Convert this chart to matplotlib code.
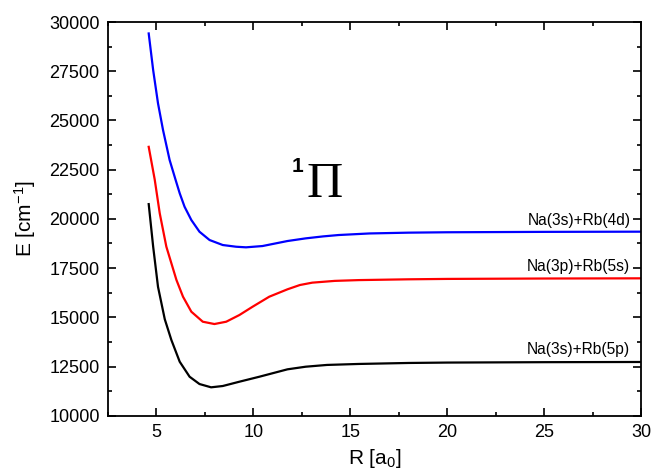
import matplotlib
matplotlib.use("Agg")
import matplotlib.pyplot as plt
from matplotlib.ticker import MultipleLocator

plt.rcParams['font.family'] = ['Liberation Sans', 'DejaVu Sans']
plt.rcParams['mathtext.fontset'] = 'custom'
plt.rcParams['mathtext.rm'] = 'Liberation Sans'
plt.rcParams['mathtext.it'] = 'Liberation Sans'

# Na(3s)+Rb(4d) -- синяя
r_4d = [4.60, 4.83, 5.08, 5.34, 5.68, 5.99, 6.20, 6.45, 6.80, 7.22, 7.74, 8.42, 9.11, 9.62,
        10.47, 11.76, 12.7, 13.6, 14.4, 16.0, 18.0, 20.0, 25.0, 30.0]
e_4d = [29420, 27560, 25870, 24510, 22990, 21974, 21300, 20617, 19942, 19347, 18926, 18672, 18585, 18555,
        18620, 18875, 19010, 19110, 19180, 19260, 19300, 19320, 19340, 19350]

# Na(3p)+Rb(5s) -- красная
r_5s = [4.60, 4.91, 5.17, 5.51, 6.03, 6.37, 6.80, 7.39, 7.99, 8.60, 9.28, 9.96, 10.82, 11.76,
        12.4, 13.04, 14.2, 15.44, 18.0, 20.0, 25.0, 30.0]
e_5s = [23660, 22000, 20280, 18590, 16900, 16046, 15284, 14776, 14658, 14776, 15116, 15537, 16046, 16422,
        16640, 16760, 16850, 16890, 16930, 16950, 16970, 16980]

# Na(3s)+Rb(5p) -- черная
r_5p = [4.60, 4.83, 5.08, 5.43, 5.77, 6.20, 6.71, 7.22, 7.82, 8.42, 9.28, 10.31, 11.76,
        12.7, 13.8, 15.44, 18.0, 20.0, 25.0, 30.0]
e_5p = [20750, 18590, 16550, 14900, 13846, 12743, 11981, 11610, 11443, 11509, 11728, 11981, 12357,
        12490, 12580, 12630, 12680, 12700, 12720, 12730]

labels = ["Na(3s)+Rb(4d)", "Na(3p)+Rb(5s)", "Na(3s)+Rb(5p)"]
label_y = [19940, 17570, 13340]

fig = plt.figure(figsize=(6.51, 4.73), dpi=100)
ax = fig.add_axes([0.1659, 0.1211, 0.8187, 0.8323])

ax.plot(r_4d, e_4d, color="#0000ff", lw=1.6)
ax.plot(r_5s, e_5s, color="#ff0000", lw=1.6)
ax.plot(r_5p, e_5p, color="black", lw=1.6)

for txt, y in zip(labels, label_y):
    ax.text(29.45, y, txt, ha="right", va="center", fontsize=11.2)

# подпись терма
ax.text(12.0, 22380, "1", fontsize=15, fontweight="bold", ha="left", va="baseline")
ax.text(12.75, 21110, "\u03a0", fontsize=36, family="Liberation Serif", ha="left", va="baseline")

ax.set_xlim(2.5, 30)
ax.set_ylim(10000, 30000)
ax.xaxis.set_major_locator(MultipleLocator(5))
ax.xaxis.set_minor_locator(MultipleLocator(2.5))
ax.yaxis.set_major_locator(MultipleLocator(2500))
ax.yaxis.set_minor_locator(MultipleLocator(1250))
ax.tick_params(which="both", direction="in", top=True, right=True, width=1.2)
ax.tick_params(which="major", length=6, labelsize=13, pad=6)
ax.tick_params(which="minor", length=3)
for s in ax.spines.values():
    s.set_linewidth(1.3)

ax.set_xlabel("R [a$_0$]", fontsize=15, labelpad=4)
ax.set_ylabel("E [cm$^{-1}$]", fontsize=15, labelpad=8)

fig.savefig("out.png", dpi=100)
